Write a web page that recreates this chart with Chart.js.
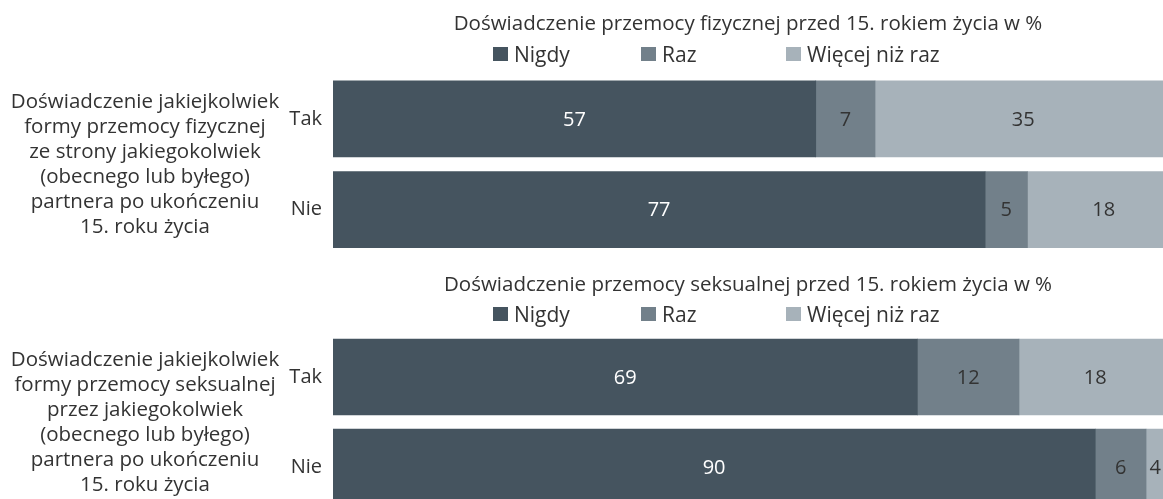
<!DOCTYPE html>
<html>
<head>
<meta charset="utf-8">
<script src="https://cdn.jsdelivr.net/npm/chart.js@4/dist/chart.umd.min.js"></script>
<style>
  html, body { margin: 0; padding: 0; background: #fff; overflow: hidden; width: 1163px; height: 499px; }
  .panel { position: absolute; left: 0; width: 1163px; }
</style>
</head>
<body>
<div class="panel" style="top:0;height:278px"><canvas id="c1" width="1163" height="278"></canvas></div>
<div class="panel" style="top:258px;height:277px"><canvas id="c2" width="1163" height="277"></canvas></div>
<script>
// ---- data ----
const categories = ['Tak', 'Nie'];
const seriesNames = ['Nigdy', 'Raz', 'Więcej niż raz'];
const physicalNigdy = [57, 77];
const physicalRaz = [7, 5];
const physicalWiecej = [35, 18];
const sexualNigdy = [69, 90];
const sexualRaz = [12, 6];
const sexualWiecej = [18, 4];
const titlePhysical = 'Doświadczenie przemocy fizycznej przed 15. rokiem życia w %';
const titleSexual = 'Doświadczenie przemocy seksualnej przed 15. rokiem życia w %';
const groupPhysical = ['Doświadczenie jakiejkolwiek', 'formy przemocy fizycznej', 'ze strony jakiegokolwiek', '(obecnego lub byłego)', 'partnera po ukończeniu', '15. roku życia'];
const groupSexual = ['Doświadczenie jakiejkolwiek', 'formy przemocy seksualnej', 'przez jakiegokolwiek', '(obecnego lub byłego)', 'partnera po ukończeniu', '15. roku życia'];

// ---- styles ----
const FONT = "'Open Sans', sans-serif";
const TEXT = '#333333';
const colors = ['#45545f', '#72808a', '#a7b2ba'];
const labelColors = ['#ffffff', '#333333', '#333333'];
const legendOffsets = [160, 308, 453];

const labelsPlugin = {
  id: 'segLabels',
  afterDatasetsDraw(chart) {
    const ctx = chart.ctx;
    ctx.save();
    ctx.font = '20px ' + FONT;
    ctx.textAlign = 'center';
    ctx.textBaseline = 'middle';
    chart.data.datasets.forEach((ds, di) => {
      const meta = chart.getDatasetMeta(di);
      meta.data.forEach((el, i) => {
        const txt = String(ds.data[i]);
        const w = ctx.measureText(txt).width;
        const cx = Math.min((el.x + el.base) / 2, chart.width - w / 2 - 2);
        ctx.fillStyle = labelColors[di];
        ctx.fillText(txt, cx, el.y + 1);
      });
    });
    ctx.restore();
  }
};

const legendPlugin = {
  id: 'fixedLegend',
  afterDraw(chart, args, opts) {
    const ctx = chart.ctx;
    ctx.save();
    ctx.font = '21px ' + FONT;
    ctx.textBaseline = 'middle';
    ctx.textAlign = 'left';
    const y = opts.y;
    chart.data.datasets.forEach((ds, di) => {
      const x = chart.chartArea.left + legendOffsets[di];
      ctx.fillStyle = ds.backgroundColor;
      ctx.fillRect(x, y, 15, 14);
      ctx.fillStyle = TEXT;
      ctx.fillText(ds.label, x + 21, y + 9.5);
    });
    ctx.restore();
  }
};

const groupPlugin = {
  id: 'groupLabel',
  afterDraw(chart, args, opts) {
    const ctx = chart.ctx;
    const lines = opts.lines || [];
    const lh = 25;
    const ca = chart.chartArea;
    const mid = (ca.top + ca.bottom) / 2 + 0.5;
    ctx.save();
    ctx.font = '20.5px ' + FONT;
    ctx.fillStyle = TEXT;
    ctx.textAlign = 'center';
    ctx.textBaseline = 'middle';
    lines.forEach((t, i) => {
      const y = mid + (i - (lines.length - 1) / 2) * lh;
      ctx.fillText(t, 145, y);
    });
    ctx.restore();
  }
};

function makeChart(id, title, group, a, b, c, titlePad, legendY) {
  const data = {
    labels: categories,
    datasets: [a, b, c].map((arr, i) => ({
      label: seriesNames[i],
      data: arr,
      backgroundColor: colors[i],
      borderWidth: 0,
      barThickness: 76
    }))
  };
  return new Chart(document.getElementById(id), {
    type: 'bar',
    data,
    options: {
      indexAxis: 'y',
      responsive: false,
      devicePixelRatio: 1,
      animation: false,
      layout: { padding: 0 },
      plugins: {
        legend: { display: false },
        tooltip: { enabled: false },
        title: {
          display: true,
          text: title,
          fullSize: false,
          color: TEXT,
          font: { family: FONT, size: 20.5, weight: 'normal', lineHeight: 1.2 },
          padding: titlePad
        },
        groupLabel: { lines: group },
        fixedLegend: { y: legendY }
      },
      scales: {
        x: {
          stacked: true,
          min: 0,
          max: 98,
          display: false
        },
        y: {
          stacked: true,
          grid: { display: false, drawTicks: false },
          border: { display: false },
          ticks: { color: TEXT, font: { family: FONT, size: 20 }, padding: 11 },
          afterFit(scale) { scale.width = 333; }
        }
      }
    },
    plugins: [labelsPlugin, legendPlugin, groupPlugin]
  });
}

makeChart('c1', titlePhysical, groupPhysical, physicalNigdy, physicalRaz, physicalWiecej, { top: 12, bottom: 36.9 }, 47);
makeChart('c2', titleSexual, groupSexual, sexualNigdy, sexualRaz, sexualWiecej, { top: 15.2, bottom: 34.2 }, 49);
</script>
</body>
</html>
